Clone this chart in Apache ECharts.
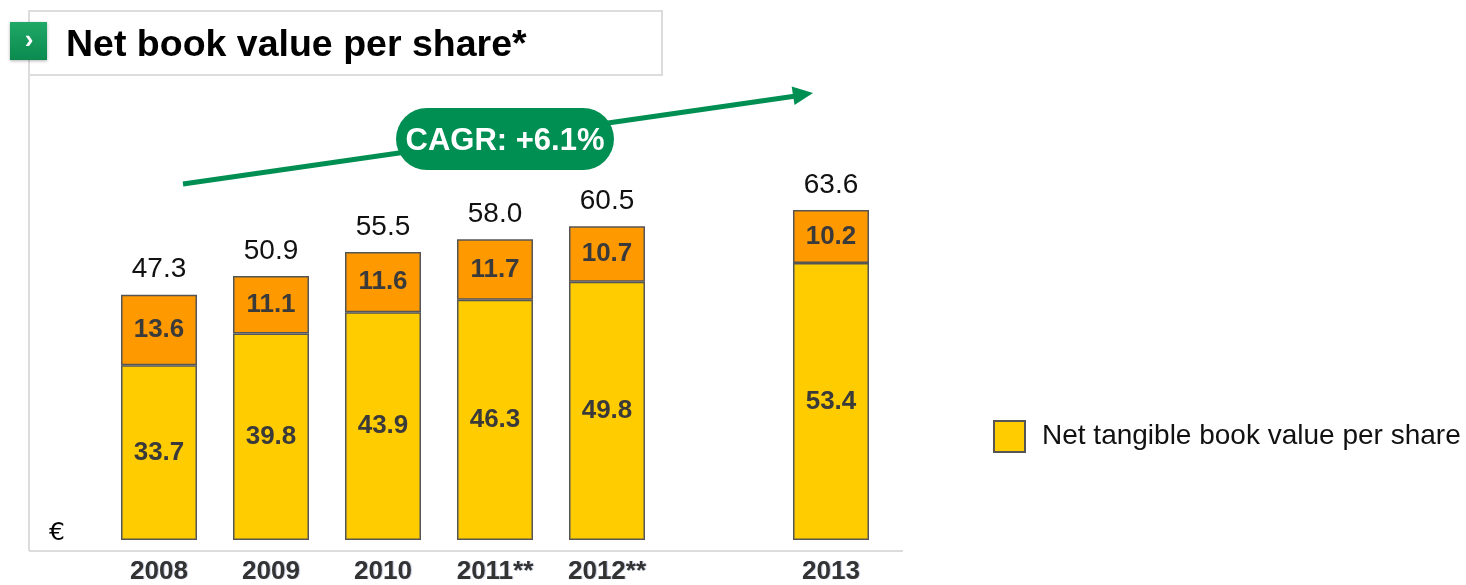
<!DOCTYPE html>
<html>
<head>
<meta charset="utf-8">
<script src="https://cdn.jsdelivr.net/npm/echarts@6/dist/echarts.min.js"></script>
<style>
  html, body { margin: 0; padding: 0; background: #fff; }
  #main { width: 1466px; height: 585px; }
</style>
</head>
<body>
<div id="main"></div>
<script>
// 数据
const years = ['2008', '2009', '2010', '2011**', '2012**', '', '2013']
const tangible = [33.7, 39.8, 43.9, 46.3, 49.8, null, 53.4]
const intangible = [13.6, 11.1, 11.6, 11.7, 10.7, null, 10.2]
const totals = [47.3, 50.9, 55.5, 58.0, 60.5, null, 63.6]

const font = '"Liberation Sans", Arial, sans-serif'
const green = '#008f52'

var chartDom = document.getElementById('main')
var myChart = echarts.init(chartDom)
var option

option = {
  animation: false,
  grid: {
    left: 103,
    right: 579,
    top: 125,
    bottom: 44
  },
  legend: {
    data: ['Net tangible book value per share'],
    left: 993,
    top: 420,
    padding: 0,
    itemWidth: 31,
    itemHeight: 31,
    icon: 'rect',
    textStyle: {
      fontFamily: font,
      fontSize: 28,
      color: '#111',
      padding: [0, 0, 0, 12]
    }
  },
  xAxis: {
    type: 'category',
    data: years,
    axisLine: { show: false },
    axisTick: { show: false },
    axisLabel: {
      margin: 19,
      fontFamily: font,
      fontWeight: 'bold',
      fontSize: 26,
      color: '#333',
      textShadowColor: 'rgba(60,90,160,0.35)',
      textShadowBlur: 1,
      textShadowOffsetX: 1
    }
  },
  yAxis: {
    type: 'value',
    min: 0,
    max: 80,
    show: false
  },
  series: [
    {
      name: 'Net tangible book value per share',
      type: 'bar',
      stack: 'bv',
      barWidth: 76,
      data: tangible,
      itemStyle: { color: '#ffcc00', borderColor: '#555', borderWidth: 1.5 },
      label: {
        show: true,
        position: 'inside',
        fontFamily: font,
        fontWeight: 'bold',
        fontSize: 26,
        color: '#3a3a3a',
        formatter: p => p.value.toFixed(1)
      }
    },
    {
      name: 'Intangible',
      type: 'bar',
      stack: 'bv',
      barWidth: 76,
      data: intangible,
      itemStyle: { color: '#ff9900', borderColor: '#555', borderWidth: 1.5 },
      label: {
        show: true,
        position: 'inside',
        fontFamily: font,
        fontWeight: 'bold',
        fontSize: 26,
        color: '#3a3a3a',
        formatter: p => p.value.toFixed(1)
      }
    },
    {
      //总数标签
      name: 'Total',
      type: 'bar',
      stack: 'bv',
      barWidth: 76,
      data: totals.map(v => (v == null ? null : 0)),
      itemStyle: { color: 'transparent' },
      label: {
        show: true,
        position: 'top',
        distance: 11,
        fontFamily: font,
        fontSize: 28,
        color: '#111',
        formatter: p => totals[p.dataIndex].toFixed(1)
      }
    }
  ],
  graphic: [
    // 标题框
    { type: 'line', shape: { x1: 29, y1: 75, x2: 29, y2: 551 }, style: { stroke: '#dcdcdc', lineWidth: 2 }, z: 1 },
    { type: 'line', shape: { x1: 29, y1: 551, x2: 903, y2: 551 }, style: { stroke: '#dcdcdc', lineWidth: 2 }, z: 1 },
    { type: 'rect', shape: { x: 29, y: 11, width: 633, height: 64 }, style: { fill: '#fff', stroke: '#dcdcdc', lineWidth: 2 }, z: 1 },
    {
      type: 'rect',
      shape: { x: 10, y: 22, width: 37, height: 38 },
      style: {
        fill: {
          type: 'linear', x: 0, y: 0, x2: 0, y2: 1,
          colorStops: [{ offset: 0, color: '#1fa866' }, { offset: 1, color: '#0b8a4f' }]
        },
        shadowColor: 'rgba(0,0,0,0.3)',
        shadowBlur: 3,
        shadowOffsetY: 1
      },
      z: 2
    },
    {
      type: 'text',
      x: 29, y: 41,
      style: { text: '›', fill: '#fff', font: 'bold 26px ' + font, align: 'center', verticalAlign: 'middle' },
      z: 3
    },
    {
      type: 'text',
      x: 66, y: 46,
      style: { text: 'Net book value per share*', fill: '#000', font: 'bold 37.5px ' + font, verticalAlign: 'middle' },
      z: 3
    },
    // 欧元符号
    {
      type: 'text',
      x: 57, y: 533,
      style: { text: '€', fill: '#000', font: '25px "DejaVu Sans", sans-serif', align: 'center', verticalAlign: 'middle' },
      z: 3
    },
    // CAGR 箭头
    { type: 'line', shape: { x1: 183, y1: 184, x2: 796, y2: 96 }, style: { stroke: green, lineWidth: 5 }, z: 3 },
    {
      type: 'polygon',
      shape: { points: [[813, 93], [794.5, 105], [791.7, 86.5]] },
      style: { fill: green },
      z: 3
    },
    {
      type: 'rect',
      shape: { x: 396, y: 108, width: 218, height: 62, r: 31 },
      style: { fill: green },
      z: 4
    },
    {
      type: 'text',
      x: 505, y: 141,
      style: { text: 'CAGR: +6.1%', fill: '#fff', font: 'bold 31px ' + font, align: 'center', verticalAlign: 'middle' },
      z: 5
    }
  ]
}

option && myChart.setOption(option)
</script>
</body>
</html>
